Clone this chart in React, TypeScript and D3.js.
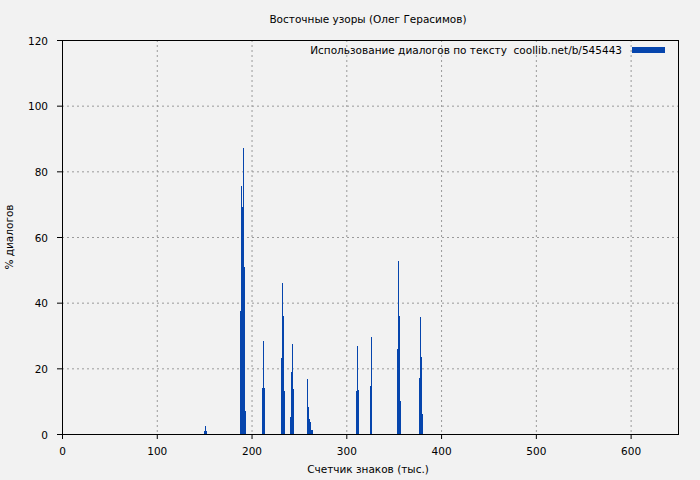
import React from "react";
import * as d3 from "d3";

const TITLE = "Восточные узоры (Олег Герасимов)";
const X_LABEL = "Счетчик знаков (тыс.)";
const Y_LABEL = "% диалогов";
const LEGEND = "Использование диалогов по тексту  coollib.net/b/545443";

const xTicks = [0, 100, 200, 300, 400, 500, 600];
const yTicks = [0, 20, 40, 60, 80, 100, 120];

// position (thousand chars) and % dialogue
const positions = [
  150, 151, 152,
  188, 189, 190, 191, 192, 193,
  211, 212, 213,
  231, 232, 233, 234,
  241, 242, 243, 244,
  258, 259, 260, 261, 262, 263, 264,
  310, 311, 312,
  325, 326,
  354, 355, 356, 357,
  377, 378, 379, 380,
];
const values = [
  1, 2.5, 1,
  37.5, 75.5, 69, 87, 51, 7,
  14, 28.3, 14,
  23, 46, 36, 13,
  5.2, 19, 27.4, 13.7,
  8.2, 16.7, 8.2, 4.6, 3.7, 1.2, 1.2,
  13, 26.8, 13.4,
  14.6, 29.5,
  26, 52.7, 36, 10,
  17, 35.5, 23.5, 6,
];

const W = 700;
const H = 480;
const M = { left: 62, right: 678, top: 40, bottom: 434 };
const FONT = "DejaVu Sans, sans-serif";
const FS = 10.5;
const BAR = "#0645AD";

export default function App() {
  const x = d3.scaleLinear().domain([0, 650]).range([M.left, M.right]);
  const y = d3.scaleLinear().domain([0, 120]).range([M.bottom, M.top]);
  const data = positions.map((p, i) => ({ p, v: values[i] }));

  return (
    <svg
      width={W}
      height={H}
      style={{ position: "absolute", left: 0, top: 0, background: "#f2f2f2" }}
      fontFamily={FONT}
    >
      <rect x={0} y={0} width={W} height={H} fill="#f2f2f2" />
      {/* grid */}
      {xTicks.map((t) => (
        <line
          key={"gx" + t}
          x1={x(t) + 0.5}
          x2={x(t) + 0.5}
          y1={M.top}
          y2={M.bottom}
          stroke="#9a9a9a"
          strokeWidth={1}
          strokeDasharray="2,3"
        />
      ))}
      {yTicks.map((t) => (
        <line
          key={"gy" + t}
          x1={M.left}
          x2={M.right}
          y1={y(t) + 0.5}
          y2={y(t) + 0.5}
          stroke="#9a9a9a"
          strokeWidth={1}
          strokeDasharray="2,3"
        />
      ))}
      {/* bars */}
      {data.map((d) => (
        <rect
          key={"b" + d.p}
          x={x(d.p)}
          width={Math.max(1, x(d.p + 1) - x(d.p))}
          y={y(d.v)}
          height={y(0) - y(d.v)}
          fill={BAR}
          shapeRendering="crispEdges"
        />
      ))}
      {/* frame */}
      <rect
        x={M.left + 0.5}
        y={M.top + 0.5}
        width={M.right - M.left}
        height={M.bottom - M.top}
        fill="none"
        stroke="#000"
        strokeWidth={1}
      />
      {/* ticks */}
      {xTicks.map((t) => (
        <g key={"tx" + t}>
          <line
            x1={x(t) + 0.5}
            x2={x(t) + 0.5}
            y1={M.bottom}
            y2={M.bottom + 5}
            stroke="#000"
          />
          <text
            x={x(t) + 0.5}
            y={455}
            fontSize={FS}
            textAnchor="middle"
            fill="#000"
          >
            {t}
          </text>
        </g>
      ))}
      {yTicks.map((t) => (
        <g key={"ty" + t}>
          <line
            x1={M.left - 5}
            x2={M.left}
            y1={y(t) + 0.5}
            y2={y(t) + 0.5}
            stroke="#000"
          />
          <text
            x={48}
            y={y(t) + 4.5}
            fontSize={FS}
            textAnchor="end"
            fill="#000"
          >
            {t}
          </text>
        </g>
      ))}
      {/* titles */}
      <text x={368} y={23} fontSize={FS} textAnchor="middle" fill="#000">
        {TITLE}
      </text>
      <text x={368} y={473} fontSize={FS} textAnchor="middle" fill="#000">
        {X_LABEL}
      </text>
      <text
        transform="translate(13,237) rotate(-90)"
        fontSize={FS}
        textAnchor="middle"
        fill="#000"
      >
        {Y_LABEL}
      </text>
      {/* legend */}
      <text
        x={622}
        y={54}
        fontSize={FS}
        textAnchor="end"
        fill="#000"
        style={{ whiteSpace: "pre" }}
      >
        {LEGEND}
      </text>
      <rect x={632} y={47} width={33} height={6} fill={BAR} />
    </svg>
  );
}
